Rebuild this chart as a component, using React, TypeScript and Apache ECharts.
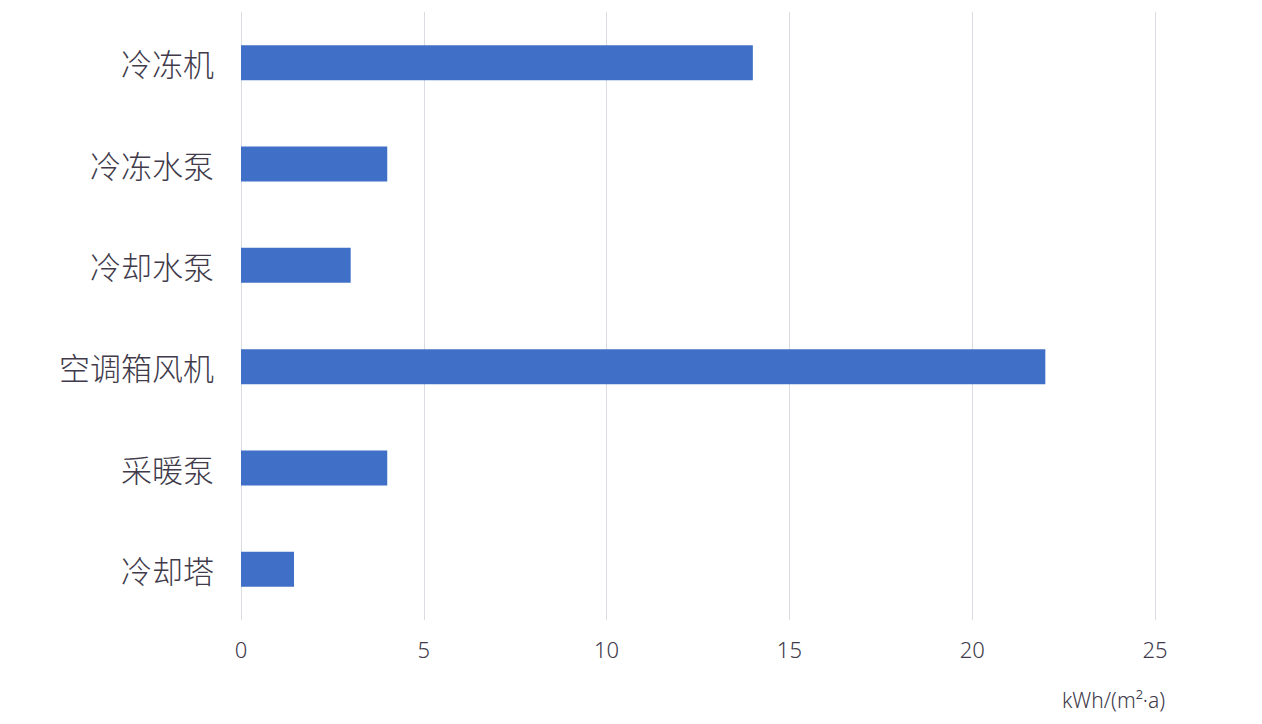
import React, { useEffect, useRef } from "react";
import * as echarts from "echarts";

const categories = ["冷冻机", "冷冻水泵", "冷却水泵", "空调箱风机", "采暖泵", "冷却塔"];
const values = [14, 4, 3, 22, 4, 1.45];
const axisUnit = "kWh/(m²·a)";

export default function App() {
  const ref = useRef<HTMLDivElement>(null);
  useEffect(() => {
    if (!ref.current) return;
    const chart = echarts.init(ref.current, null, { renderer: "svg" });
    chart.setOption({
      animation: false,
      backgroundColor: "#ffffff",
      grid: { left: 241, right: 107, top: 12, bottom: 104, containLabel: false },
      xAxis: {
        type: "value",
        min: 0,
        max: 25,
        interval: 5,
        axisLine: { show: false },
        axisTick: { show: false },
        splitLine: { show: true, lineStyle: { color: "#d9dce3", width: 1 } },
        axisLabel: {
          color: "#403a4a",
          fontSize: 22,
          margin: 18,
          fontFamily: "Noto Sans, sans-serif",
          fontWeight: 300,
        },
      },
      yAxis: {
        type: "category",
        data: categories,
        inverse: true,
        axisLine: { show: false },
        axisTick: { show: false },
        splitLine: { show: false },
        axisLabel: {
          color: "#403a4a",
          fontSize: 31,
          margin: 27,
          fontFamily: "Noto Sans CJK SC, sans-serif",
          fontWeight: 300,
        },
      },
      series: [
        {
          type: "bar",
          data: values,
          barWidth: 35,
          itemStyle: { color: "#3f6fc7" },
        },
      ],
      graphic: [
        {
          type: "text",
          left: 1062,
          top: 689,
          style: {
            text: axisUnit,
            fontSize: 21,
            fill: "#403a4a",
            fontFamily: "Noto Sans, sans-serif",
            fontWeight: 300,
          },
        },
      ],
    });
    return () => chart.dispose();
  }, []);
  return (
    <div
      ref={ref}
      style={{ position: "absolute", left: 0, top: 0, width: 1262, height: 724 }}
    />
  );
}
